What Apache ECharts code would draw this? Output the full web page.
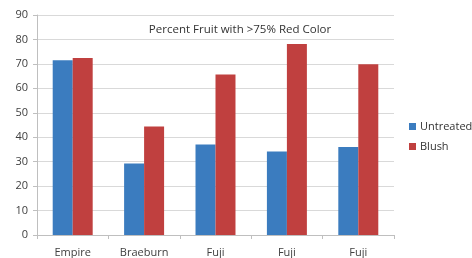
<!DOCTYPE html>
<html>
<head>
<meta charset="utf-8">
<script src="https://cdn.jsdelivr.net/npm/echarts@6/dist/echarts.min.js"></script>
<style>
  html, body { margin: 0; padding: 0; background: #fff; }
  #chart { width: 472px; height: 258px; }
</style>
</head>
<body>
<div id="chart"></div>
<script>
var categories = ['Empire', 'Braeburn', 'Fuji', 'Fuji', 'Fuji'];
var untreated = [71.5, 29.2, 37.0, 34.2, 36.0];
var blush = [72.4, 44.4, 65.7, 78.1, 69.9];

var chart = echarts.init(document.getElementById('chart'));

var labelFont = { color: '#404040', fontSize: 11, fontFamily: 'Open Sans' };

var option = {
    backgroundColor: '#fff',
    animation: false,
    title: {
        text: 'Percent Fruit with >75% Red Color',
        left: 235,
        top: 19,
        textAlign: 'center',
        textStyle: { color: '#333', fontSize: 11.5, fontWeight: 'normal', fontFamily: 'Open Sans' }
    },
    legend: {
        orient: 'vertical',
        left: 404,
        top: 116,
        itemWidth: 7,
        itemHeight: 7,
        itemGap: 9,
        icon: 'rect',
        textStyle: { color: '#333', fontSize: 11, fontFamily: 'Open Sans', padding: [0, 0, 0, -1] },
        data: ['Untreated', 'Blush']
    },
    grid: { left: 37, right: 78, top: 15, bottom: 22, containLabel: false },
    xAxis: {
        type: 'category',
        data: categories,
        axisLine: { lineStyle: { color: '#bfbfbf' } },
        axisTick: { show: true, length: 4, lineStyle: { color: '#bfbfbf' } },
        axisLabel: Object.assign({ margin: 12 }, labelFont)
    },
    yAxis: {
        type: 'value',
        min: 0,
        max: 90,
        interval: 10,
        axisLine: { show: true, lineStyle: { color: '#bfbfbf' } },
        axisTick: { show: true, length: 4, lineStyle: { color: '#bfbfbf' } },
        axisLabel: Object.assign({ margin: 9 }, labelFont),
        splitLine: { lineStyle: { color: '#d9d9d9' } }
    },
    series: [
        {
            name: 'Untreated',
            type: 'bar',
            data: untreated,
            barGap: '0%',
            barCategoryGap: '44%',
            itemStyle: { color: '#3b7cbf' }
        },
        {
            name: 'Blush',
            type: 'bar',
            data: blush,
            barGap: '0%',
            barCategoryGap: '44%',
            itemStyle: { color: '#c0403f' }
        }
    ]
};

chart.setOption(option);
</script>
</body>
</html>
